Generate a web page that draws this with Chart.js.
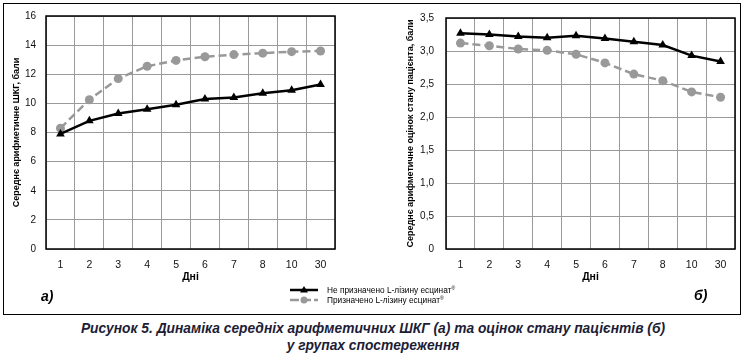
<!DOCTYPE html>
<html>
<head>
<meta charset="utf-8">
<script src="https://cdn.jsdelivr.net/npm/chart.js@4.4.1/dist/chart.umd.min.js"></script>
<style>
  html, body { margin: 0; padding: 0; background: #fff; }
  body { width: 746px; height: 357px; position: relative; overflow: hidden; font-family: "Liberation Sans", Arial, sans-serif; }
  #frame { position: absolute; left: 3px; top: 3px; width: 738px; height: 312px; border: 1.5px solid #000; box-sizing: border-box; }
  .box { position: absolute; top: 0; height: 290px; }
  #boxA { left: 0; width: 345px; }
  #boxB { left: 373px; width: 373px; }
  .tag { position: absolute; font-weight: bold; font-style: italic; font-size: 14px; color: #000; }
  #legend { position: absolute; left: 288px; top: 285px; font-size: 8.3px; color: #000; line-height: 10px; }
  #legend .row { display: flex; align-items: center; height: 10px; }
  #legend svg { margin-right: 3px; }
  #legend sup { font-size: 5px; vertical-align: 3px; line-height: 0; }
  #caption { position: absolute; left: 0; width: 746px; top: 320px; text-align: center; font-weight: bold; font-style: italic; font-size: 13.8px; line-height: 17px; color: #1d1d35; }
</style>
</head>
<body>
<div id="frame"></div>
<div class="box" id="boxA"><canvas id="chartA"></canvas></div>
<div class="box" id="boxB"><canvas id="chartB"></canvas></div>
<div class="tag" style="left:41px; top:288px;">а)</div>
<div class="tag" style="left:694px; top:287px;">б)</div>
<div id="legend">
  <div class="row">
    <svg width="36" height="10"><line x1="2" y1="5" x2="30" y2="5" stroke="#000" stroke-width="2.5"/><polygon points="16,1 20,7.5 12,7.5" fill="#000"/></svg>
    <span>Не призначено L-лізину есцинат<sup>®</sup></span>
  </div>
  <div class="row">
    <svg width="36" height="10"><line x1="2" y1="5" x2="30" y2="5" stroke="#999" stroke-width="2.5" stroke-dasharray="9,3"/><circle cx="16" cy="5" r="3.5" fill="#999"/></svg>
    <span>Призначено L-лізину есцинат<sup>®</sup></span>
  </div>
</div>
<div id="caption">Рисунок 5. Динаміка середніх арифметичних ШКГ (а) та оцінок стану пацієнтів (б)<br>у групах спостереження</div>

<script>
// ---- data ----
const days = ['1', '2', '3', '4', '5', '6', '7', '8', '10', '30'];
const seriesNames = ['Не призначено L-лізину есцинат®', 'Призначено L-лізину есцинат®'];
// chart а) — mean SHKG score
const shkgNoLys = [7.9, 8.8, 9.3, 9.6, 9.9, 10.3, 10.4, 10.7, 10.9, 11.3];
const shkgLys   = [8.3, 10.25, 11.7, 12.55, 12.95, 13.2, 13.35, 13.45, 13.55, 13.6];
// chart б) — mean patient condition score
const condNoLys = [3.27, 3.25, 3.22, 3.2, 3.23, 3.19, 3.14, 3.09, 2.93, 2.84];
const condLys   = [3.12, 3.08, 3.03, 3.01, 2.95, 2.82, 2.65, 2.55, 2.38, 2.3];
const yTicksA = { min: 0, max: 16, step: 2 };
const yTicksB = { min: 0, max: 3.5, step: 0.5 };
const yTitleA = 'Середнє арифметичне ШКГ, бали';
const yTitleB = 'Середнє арифметичне оцінок стану пацієнта, бали';
const xTitle = 'Дні';

// ---- helpers ----
const frameBorder = {
  id: 'frameBorder',
  beforeDatasetsDraw(chart) {
    const { ctx, chartArea: a } = chart;
    ctx.save();
    ctx.strokeStyle = '#000';
    ctx.lineWidth = 1.5;
    ctx.strokeRect(a.left, a.top, a.right - a.left, a.bottom - a.top);
    ctx.restore();
  }
};

function makeChart(id, dataNo, dataYes, yr, yTitle, opts) {
  return new Chart(document.getElementById(id), {
    type: 'line',
    data: {
      labels: days,
      datasets: [
        { label: seriesNames[0], data: dataNo, borderColor: '#000', backgroundColor: '#000',
          borderWidth: 2.5, pointStyle: 'triangle', pointRadius: 5, pointBorderWidth: 0,
          tension: 0 },
        { label: seriesNames[1], data: dataYes, borderColor: '#999', backgroundColor: '#999',
          borderWidth: 2.5, borderDash: [8, 4], pointStyle: 'circle', pointRadius: 4.5, pointBorderWidth: 0,
          tension: 0 }
      ]
    },
    options: {
      responsive: true,
      maintainAspectRatio: false,
      animation: false,
      layout: { padding: opts.padding },
      plugins: { legend: { display: false }, tooltip: { enabled: false } },
      scales: {
        x: {
          type: 'category',
          offset: true,
          grid: { offset: true, color: '#9a9a9a', lineWidth: 1, drawTicks: false },
          border: { display: false },
          ticks: { color: '#111', padding: 10, font: { family: 'Liberation Sans', size: 10.5 } },
          title: { display: true, text: xTitle, color: '#000', padding: { top: 0, bottom: 7 },
                   font: { family: 'Liberation Sans', size: 10.5, weight: 'bold' } },
          afterFit: s => { s.height = 41; }
        },
        y: {
          min: yr.min, max: yr.max,
          grid: { color: '#9a9a9a', lineWidth: 1, drawTicks: false },
          border: { display: false },
          ticks: {
            stepSize: yr.step, color: '#111', padding: opts.tickPad,
            font: { family: 'Liberation Sans', size: 10 },
            callback: v => opts.comma ? (v === 0 ? '0' : v.toFixed(1).replace('.', ',')) : String(v)
          },
          title: { display: true, text: yTitle, color: '#000', padding: { top: 11, bottom: 0 },
                   font: { family: 'Liberation Sans', size: 9, weight: 'bold' } },
          afterFit: s => { s.width = opts.yWidth; }
        }
      }
    },
    plugins: [frameBorder]
  });
}

makeChart('chartA', shkgNoLys, shkgLys, yTicksA, yTitleA,
  { padding: { top: 15, right: 10, left: 0, bottom: 0 }, yWidth: 46, tickPad: 10, comma: false });
makeChart('chartB', condNoLys, condLys, yTicksB, yTitleB,
  { padding: { top: 15, right: 11, left: 21, bottom: 0 }, yWidth: 52, tickPad: 12, comma: true });
</script>
</body>
</html>
